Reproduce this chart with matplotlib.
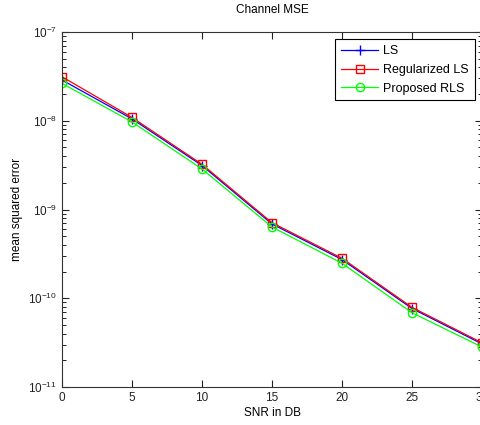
import matplotlib
matplotlib.use("Agg")
import matplotlib.pyplot as plt

plt.rcParams["font.family"] = ["Liberation Sans", "DejaVu Sans"]
plt.rcParams["font.size"] = 8.5

# ---------- Data ----------
snr_db = [0, 5, 10, 15, 20, 25, 30]
mse_ls = [2.88e-8, 1.05e-8, 3.13e-9, 6.87e-10, 2.73e-10, 7.66e-11, 3.06e-11]
mse_reg_ls = [3.13e-8, 1.09e-8, 3.23e-9, 7.10e-10, 2.82e-10, 7.90e-11, 3.15e-11]
mse_rls = [2.64e-8, 9.7e-9, 2.86e-9, 6.35e-10, 2.48e-10, 6.87e-11, 2.82e-11]

x_ticks = [0, 5, 10, 15, 20, 25, 30]

# ---------- Plot ----------
fig = plt.figure(figsize=(4.8, 4.25), dpi=100)
ax = fig.add_axes([62 / 480, 38 / 425, 420 / 480, 355 / 425])

ax.semilogy(snr_db, mse_ls, color="blue", marker="+", markersize=7, lw=0.9, label="LS")
ax.semilogy(snr_db, mse_reg_ls, color="red", marker="s", markersize=6, mfc="none", lw=0.9,
            label="Regularized LS")
ax.semilogy(snr_db, mse_rls, color="#00ff00", marker="o", markersize=6, mfc="none", lw=0.9,
            label="Proposed RLS")

ax.set_xlim(0, 30)
ax.set_ylim(1e-11, 1e-7)
ax.set_xticks(x_ticks)
ax.tick_params(which="both", direction="in", top=True, right=True, labelsize=8.5, colors="#222222")
ax.tick_params(which="major", length=5, width=0.8)
ax.tick_params(which="minor", length=3, width=0.7)
for s in ax.spines.values():
    s.set_color("#333333")
    s.set_linewidth(0.8)

ax.set_title("Channel MSE", fontsize=8.5, pad=14)
ax.set_xlabel("SNR in DB", fontsize=8.5, labelpad=2)
ax.set_ylabel("mean squared error", fontsize=8.5)

leg = ax.legend(loc="upper right", fancybox=False, framealpha=1, edgecolor="black",
                fontsize=9, handlelength=3.0, handletextpad=0.4, borderaxespad=0.6,
                labelspacing=0.55, borderpad=0.45)
leg.get_frame().set_linewidth(0.8)

fig.savefig("out.png", dpi=100)
